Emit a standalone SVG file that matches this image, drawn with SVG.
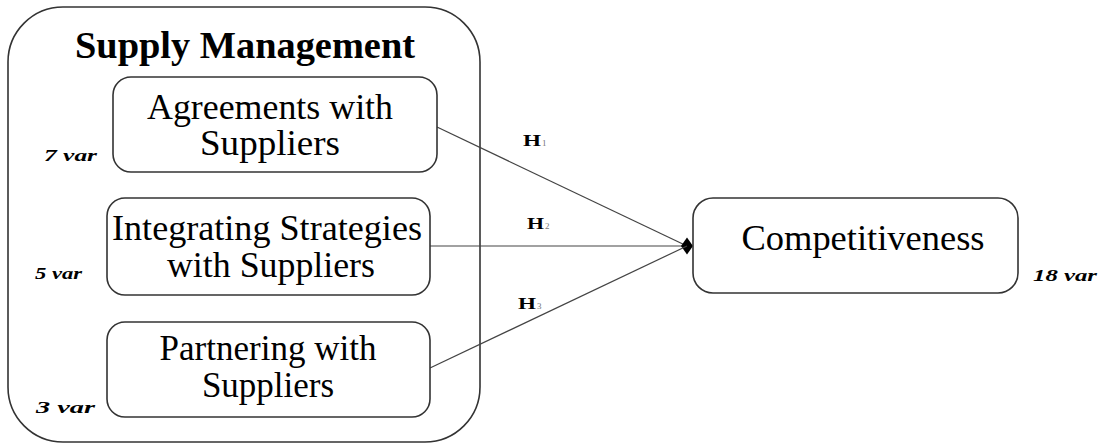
<svg xmlns="http://www.w3.org/2000/svg" width="1102" height="444" viewBox="0 0 1102 444">
<defs>
<style>
.box{fill:#fff;stroke:#333;stroke-width:1.6}
.lbl{font-family:"Liberation Serif","Times New Roman",serif;font-size:35px;fill:#000;text-anchor:middle}
.ttl{font-family:"Liberation Serif","Times New Roman",serif;font-size:37px;font-weight:bold;fill:#000;text-anchor:middle}
.var{font-family:"Liberation Serif","Times New Roman",serif;font-size:16px;font-weight:bold;font-style:italic;fill:#000}
.h{font-family:"Liberation Serif","Times New Roman",serif;font-size:17px;font-weight:bold;fill:#000}
.sub{font-family:"Liberation Serif","Times New Roman",serif;font-size:9px;fill:#777}
.con{stroke:#444;stroke-width:1.2;fill:none}
</style>
<marker id="dia" viewBox="-6 -9 12 18" markerWidth="12" markerHeight="18" refX="0" refY="0" orient="0" markerUnits="userSpaceOnUse">
<polygon points="-6,0 0,-8.5 6,0 0,8.5" fill="#000"/>
</marker>
</defs>
<rect width="1102" height="444" fill="#fff"/>
<g id="supply-management">
<rect class="box" x="8" y="7" width="472" height="435" rx="55" ry="55"/>
<text class="ttl" x="245" y="58" textLength="340" lengthAdjust="spacingAndGlyphs">Supply Management</text>
</g>
<g id="connectors">
<line class="con" x1="437" y1="127" x2="687" y2="246"/>
<line class="con" x1="430" y1="246" x2="687" y2="246" marker-end="url(#dia)"/>
<line class="con" x1="430" y1="368" x2="687" y2="246"/>
<text class="h" x="523" y="146" textLength="18" lengthAdjust="spacingAndGlyphs">H</text><text class="sub" x="542" y="146">1</text>
<text class="h" x="527" y="229" textLength="17" lengthAdjust="spacingAndGlyphs">H</text><text class="sub" x="545" y="229">2</text>
<text class="h" x="518" y="309" textLength="18" lengthAdjust="spacingAndGlyphs">H</text><text class="sub" x="537" y="309">3</text>
</g>
<g id="agreements">
<rect class="box" x="113" y="77" width="324" height="95" rx="18" ry="18"/>
<text class="lbl" x="270" y="119" textLength="246" lengthAdjust="spacingAndGlyphs">Agreements with</text>
<text class="lbl" x="270" y="155" textLength="140" lengthAdjust="spacingAndGlyphs">Suppliers</text>
<text class="var" x="44" y="161" textLength="53" lengthAdjust="spacingAndGlyphs">7 var</text>
</g>
<g id="integrating">
<rect class="box" x="107" y="198" width="323" height="97" rx="18" ry="18"/>
<text class="lbl" x="267" y="240" textLength="310" lengthAdjust="spacingAndGlyphs">Integrating Strategies</text>
<text class="lbl" x="271" y="277" textLength="208" lengthAdjust="spacingAndGlyphs">with Suppliers</text>
<text class="var" x="35" y="279" textLength="47" lengthAdjust="spacingAndGlyphs">5 var</text>
</g>
<g id="partnering">
<rect class="box" x="107" y="322" width="323" height="95" rx="18" ry="18"/>
<text class="lbl" x="268" y="360">Partnering with</text>
<text class="lbl" x="268" y="397">Suppliers</text>
<text class="var" x="36" y="413" textLength="59" lengthAdjust="spacingAndGlyphs">3 var</text>
</g>
<g id="competitiveness">
<rect class="box" x="693" y="198" width="325" height="95" rx="20" ry="20"/>
<text class="lbl" x="863" y="250" textLength="243" lengthAdjust="spacingAndGlyphs">Competitiveness</text>
<text class="var" x="1033" y="281" textLength="64" lengthAdjust="spacingAndGlyphs">18 var</text>
</g>
</svg>
